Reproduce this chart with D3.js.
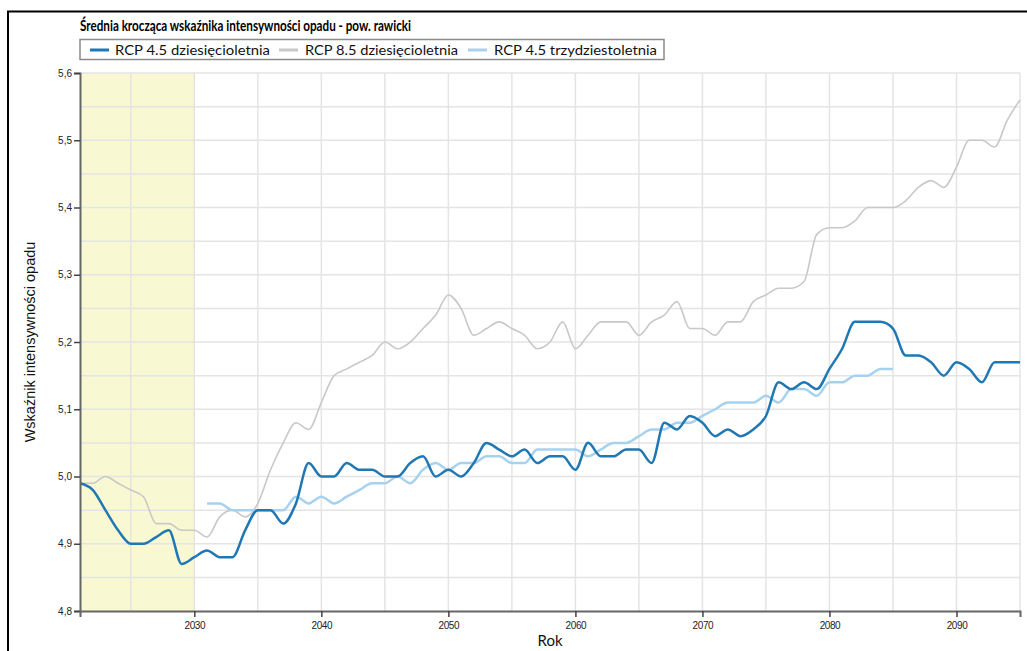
<!DOCTYPE html>
<html><head><meta charset="utf-8">
<script src="https://cdn.jsdelivr.net/npm/d3@7"></script>
<style>
html,body{margin:0;padding:0;background:#fff;}
svg{display:block;}
</style></head>
<body>
<svg id="chart" width="1027" height="651"></svg>
<script>
const years = d3.range(2021, 2096);
const rcp45Decadal = [4.99,4.98,4.95,4.92,4.90,4.90,4.91,4.92,4.87,4.88,
  4.89,4.88,4.88,4.92,4.95,4.95,4.93,4.96,5.02,5.00,
  5.00,5.02,5.01,5.01,5.00,5.00,5.02,5.03,5.00,5.01,
  5.00,5.02,5.05,5.04,5.03,5.04,5.02,5.03,5.03,5.01,
  5.05,5.03,5.03,5.04,5.04,5.02,5.08,5.07,5.09,5.08,
  5.06,5.07,5.06,5.07,5.09,5.14,5.13,5.14,5.13,5.16,
  5.19,5.23,5.23,5.23,5.22,5.18,5.18,5.17,5.15,5.17,
  5.16,5.14,5.17,5.17,5.17];
const rcp85Decadal = [4.99,4.99,5.00,4.99,4.98,4.97,4.93,4.93,4.92,4.92,
  4.91,4.94,4.95,4.94,4.96,5.01,5.05,5.08,5.07,5.11,
  5.15,5.16,5.17,5.18,5.20,5.19,5.20,5.22,5.24,5.27,
  5.25,5.21,5.22,5.23,5.22,5.21,5.19,5.20,5.23,5.19,
  5.21,5.23,5.23,5.23,5.21,5.23,5.24,5.26,5.22,5.22,
  5.21,5.23,5.23,5.26,5.27,5.28,5.28,5.29,5.36,5.37,
  5.37,5.38,5.40,5.40,5.40,5.41,5.43,5.44,5.43,5.46,
  5.50,5.50,5.49,5.53,5.56];
const years30 = d3.range(2031, 2086);
const rcp45Thirty = [4.96,4.96,4.95,4.95,4.95,4.95,4.95,4.97,4.96,4.97,
  4.96,4.97,4.98,4.99,4.99,5.00,4.99,5.01,5.02,5.01,
  5.02,5.02,5.03,5.03,5.02,5.02,5.04,5.04,5.04,5.04,
  5.03,5.04,5.05,5.05,5.06,5.07,5.07,5.08,5.08,5.09,
  5.10,5.11,5.11,5.11,5.12,5.11,5.13,5.13,5.12,5.14,
  5.14,5.15,5.15,5.16,5.16];
const seriesNames = ["RCP 4.5 dziesięcioletnia","RCP 8.5 dziesięcioletnia","RCP 4.5 trzydziestoletnia"];
const seriesColors = ["#1f78b4","#c8c8c8","#a6d2ef"];
const yTicks = [4.8,4.9,5.0,5.1,5.2,5.3,5.4,5.5,5.6];
const xTicks = [2030,2040,2050,2060,2070,2080,2090];
const highlightRange = [2021, 2030];
const title = "Średnia krocząca wskaźnika intensywności opadu - pow. rawicki";
const yTitle = "Wskaźnik intensywności opadu";
const xTitle = "Rok";

const svg = d3.select("#chart");
const L = 80, R = 1020, T = 73, B = 611;
const x = d3.scaleLinear().domain([2021, 2095]).range([L, R]);
const y = d3.scaleLinear().domain([4.8, 5.6]).range([B, T]);

// outer frame
svg.append("path").attr("d", "M8,660 L8,11.5 L1040,11.5")
  .attr("fill","none").attr("stroke","#000").attr("stroke-width",2);

// highlight band
svg.append("rect").attr("x", x(highlightRange[0])).attr("y", T)
  .attr("width", x(highlightRange[1]) - x(highlightRange[0])).attr("height", B - T)
  .attr("fill", "#f8f8d2");

// grid
const g = svg.append("g");
g.selectAll("line.h").data(d3.range(4.85, 5.601, 0.05)).join("line")
  .attr("x1", L).attr("x2", R).attr("y1", d => y(d)).attr("y2", d => y(d))
  .attr("stroke", "#e4e4e4").attr("stroke-width", 1.5);
g.selectAll("line.v").data(d3.range(2025, 2096, 5)).join("line")
  .attr("x1", d => x(d)).attr("x2", d => x(d)).attr("y1", T).attr("y2", B)
  .attr("stroke", "#e4e4e4").attr("stroke-width", 1.5);

// clip
svg.append("clipPath").attr("id","clip").append("rect")
  .attr("x", L).attr("y", T - 2).attr("width", R - L + 2).attr("height", B - T + 2);

const line = d3.line().x(d => x(d[0])).y(d => y(d[1])).curve(d3.curveMonotoneX);
const lines = svg.append("g").attr("clip-path","url(#clip)");
lines.append("path").datum(d3.zip(years, rcp85Decadal)).attr("d", line)
  .attr("fill","none").attr("stroke", seriesColors[1]).attr("stroke-width", 1.6);
lines.append("path").datum(d3.zip(years30, rcp45Thirty)).attr("d", line)
  .attr("fill","none").attr("stroke", seriesColors[2]).attr("stroke-width", 2.5);
lines.append("path").datum(d3.zip(years, rcp45Decadal)).attr("d", line)
  .attr("fill","none").attr("stroke", seriesColors[0]).attr("stroke-width", 2.5);

// axes
const fmt = d => d3.format(".1f")(d).replace(".", ",");
const ya = svg.append("g").attr("transform", `translate(${L},0)`)
  .call(d3.axisLeft(y).tickValues(yTicks).tickFormat(fmt).tickSize(6).tickSizeOuter(6));
const xa = svg.append("g").attr("transform", `translate(0,${B})`)
  .call(d3.axisBottom(x).tickValues(xTicks).tickFormat(d3.format("d")).tickSize(6).tickSizeOuter(6));
[ya, xa].forEach(a => {
  a.select(".domain").attr("stroke", "#666").attr("stroke-width", 2);
  a.selectAll(".tick line").attr("stroke", "#444").attr("stroke-width", 1.5);
  a.selectAll("text").attr("font-family", "'Liberation Sans', Arial, sans-serif")
    .attr("font-size", 10).attr("fill", "#222");
});
ya.selectAll("text").attr("x", -8);
xa.selectAll("text").attr("y", 11).attr("letter-spacing", -0.4);

// axis titles
svg.append("text").attr("transform", `translate(35,${(T + B) / 2}) rotate(-90)`)
  .attr("text-anchor","middle").attr("font-family","'Liberation Sans', Arial, sans-serif")
  .attr("font-size", 14.5).attr("fill","#111").text(yTitle);
svg.append("text").attr("x", 550).attr("y", 646).attr("text-anchor","middle")
  .attr("font-family","Lato, 'Open Sans', sans-serif").attr("font-size", 15).attr("fill","#111").text(xTitle);

// title
svg.append("text").attr("x", 80).attr("y", 31)
  .attr("font-family","Lato, 'Open Sans', sans-serif").attr("font-weight","bold")
  .attr("font-size", 15).attr("fill","#000")
  .attr("textLength", 331).attr("lengthAdjust","spacingAndGlyphs").text(title);

// legend
const lg = svg.append("g");
lg.append("rect").attr("x", 80).attr("y", 39.5).attr("width", 584).attr("height", 20)
  .attr("fill","#fff").attr("stroke","#8a8a8a").attr("stroke-width", 1.5);
const legendItems = [
  {sx: 90, tx: 115, tw: 155},
  {sx: 279, tx: 305, tw: 153},
  {sx: 468, tx: 494, tw: 163}
];
legendItems.forEach((it, i) => {
  lg.append("line").attr("x1", it.sx).attr("x2", it.sx + 19).attr("y1", 50).attr("y2", 50)
    .attr("stroke", seriesColors[i]).attr("stroke-width", 3);
  lg.append("text").attr("x", it.tx).attr("y", 54.5)
    .attr("font-family","Lato, 'Open Sans', sans-serif").attr("font-size", 13.5).attr("fill","#111")
    .attr("textLength", it.tw).attr("lengthAdjust","spacingAndGlyphs").text(seriesNames[i]);
});
</script>
</body></html>
